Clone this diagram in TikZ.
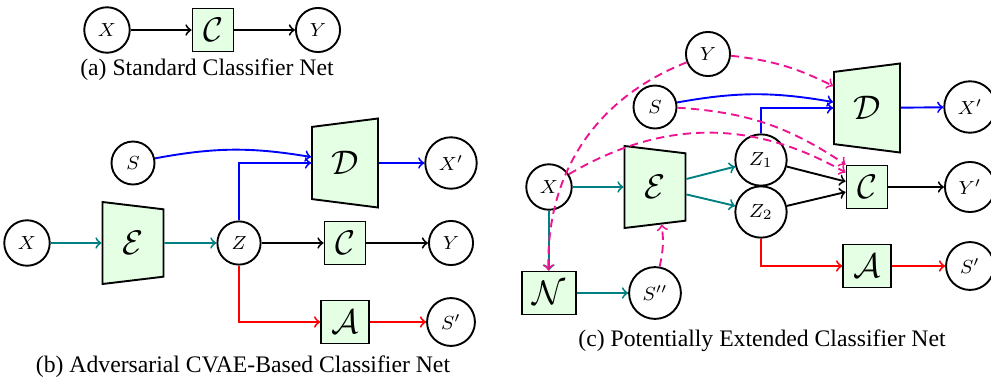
\documentclass[tikz,border=0pt]{standalone}
\usepackage{fontspec}
\setmainfont{Liberation Serif}
\usetikzlibrary{shapes.geometric}

\definecolor{netgreen}{RGB}{228,255,228}
\definecolor{hintpink}{RGB}{238,20,145}
\newcommand{\px}{0.422pt}

\tikzstyle{var}=[draw,thick,circle,minimum size=43*\px,inner sep=3.5pt,font=\fontsize{8}{10}\selectfont]
\tikzstyle{net}=[draw,thick,fill=netgreen,minimum width=41*\px,minimum height=43*\px,inner xsep=4.3pt,inner ysep=2pt,font=\fontsize{14}{17}\selectfont]
\tikzstyle{enc}=[net,trapezium,trapezium angle=80,trapezium stretches body,shape border rotate=270,minimum width=82*\px,minimum height=61*\px]
\tikzstyle{dec}=[net,trapezium,trapezium angle=80,trapezium stretches body,shape border rotate=90,minimum width=89*\px,minimum height=66*\px]
\tikzstyle{edge}=[draw,thick,->]
\tikzstyle{cond}=[draw,thick,->,dash pattern=on 3.5pt off 2.2pt,hintpink]
\tikzstyle{caption}=[font=\fontsize{10}{12}\selectfont]

\begin{document}
\begin{tikzpicture}[x=\px, y=-\px]
    \useasboundingbox (0,0) rectangle (991,379);

    % (a) plain classifier
    \foreach \pos/\name/\lbl in {{(107,30)/Xa/X}, {(318,30)/Ya/Y}}
        \node[var] (\name) at \pos {$\lbl$};
    \node[net] (Ca) at (213,30) {$\mathcal{C}$};
    \foreach \source/\dest in {Xa/Ca, Ca/Ya}
        \path[edge] (\source) -- (\dest);
    \node[caption] (capa) at (207,70) {(a) Standard Classifier Net};

    % (b) first the variables, then the nets
    \foreach \pos/\name/\lbl in {{(27,243)/Xb/X}, {(239,243)/Zb/Z}, {(451,243)/Yb/Y}, {(133,163)/Sb/S}, {(451,163)/Xpb/X'}, {(451,322)/Spb/S'}}
        \node[var] (\name) at \pos {$\lbl$};
    \foreach \pos/\name/\lbl in {{(345,243)/Cb/C}, {(345,322)/Ab/A}}
        \node[net] (\name) at \pos {$\mathcal{\lbl}$};
    \node[enc] (Eb) at (133,243) {$\mathcal{E}$};
    \node[dec] (Db) at (345,163) {$\mathcal{D}$};
    % straight connections
    \foreach \source/\dest/\col in {Xb/Eb/teal, Eb/Zb/teal, Zb/Cb/black, Cb/Yb/black, Db/Xpb/blue, Ab/Spb/red}
        \path[edge,\col] (\source) -- (\dest);
    \path[edge,blue] (Zb) |- (Db);
    \path[edge,red] (Zb) |- (Ab);
    \path[edge,blue] (Sb) to[bend left=10] ([yshift=6*\px]Db.west);
    \node[caption] (capb) at (243,367) {(b) Adversarial CVAE-Based Classifier Net};

    % (c) extended version
    \foreach \pos/\name/\lbl in {{(708,54)/Yc/Y}, {(655,107)/Sc/S}, {(549,187)/Xc/X}, {(761,160)/Zac/Z_1}, {(761,212)/Zbc/Z_2}, {(970,107)/Xpc/X'}, {(970,187)/Ypc/Y'}, {(970,266)/Spc/S'}, {(655,293)/Sppc/S''}}
        \node[var] (\name) at \pos {$\lbl$};
    \foreach \pos/\name/\lbl in {{(867,187)/Cc/C}, {(867,266)/Ac/A}, {(549,293)/Nc/N}}
        \node[net] (\name) at \pos {$\mathcal{\lbl}$};
    \node[enc] (Ec) at (655,187) {$\mathcal{E}$};
    \node[dec] (Dc) at (867,108) {$\mathcal{D}$};
    \foreach \source/\dest/\col in {Xc/Ec/teal, Ec/Zac/teal, Ec/Zbc/teal, Xc/Nc/teal, Nc/Sppc/teal, Zac/Cc/black, Zbc/Cc/black, Cc/Ypc/black, Dc/Xpc/blue, Ac/Spc/red}
        \path[edge,\col] (\source) -- (\dest);
    \path[edge,blue] (Zac) |- (Dc);
    \path[edge,red] (Zbc) |- (Ac);
    \path[edge,blue] (Sc) to[bend left=10] ([yshift=6*\px]Dc.west);
    % dashed conditioning links
    \path[cond] (Yc) to[bend left=10] ([yshift=22*\px]Dc.west);
    \path[cond] (Yc) to[bend right=35] (Nc);
    \path[cond] (Sc) to[bend left=15] (Cc.north west);
    \path[cond] (Xc) to[bend left=30] ([yshift=-8*\px]Cc.north west);
    \path[cond] (Sppc) to[bend right=10] (Ec);
    \node[caption] (capc) at (762,341) {(c) Potentially Extended Classifier Net};
\end{tikzpicture}
\end{document}
